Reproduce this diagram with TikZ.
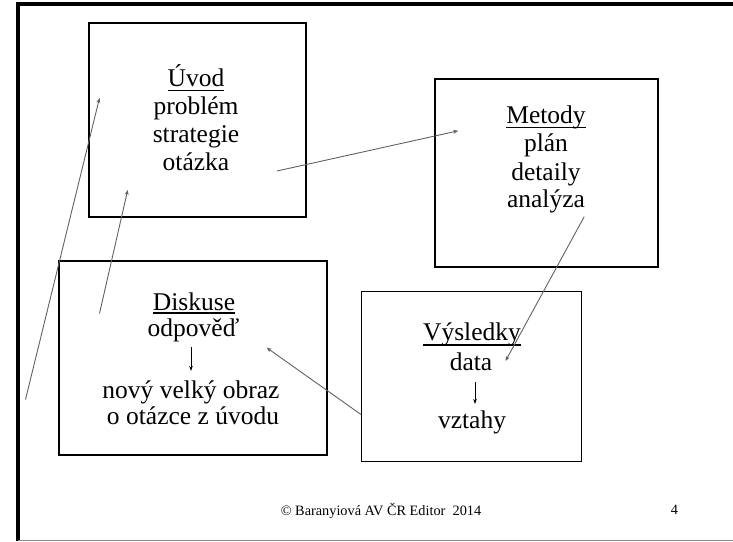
\documentclass[tikz,border=0pt]{standalone}
\usepackage{fontspec}
\setmainfont{Liberation Serif}
\usetikzlibrary{arrows.meta}
\begin{document}
\begin{tikzpicture}[x=1pt,y=-1pt,
  box/.style={draw=black, line width=1.8pt, inner sep=0pt, outer sep=0pt, anchor=north west},
  txt/.style={anchor=base, inner sep=0pt, outer sep=0pt, font=\fontsize{25.5}{28}\selectfont},
  foottxt/.style={anchor=base, inner sep=0pt, font=\fontsize{14.3}{16}\selectfont},
  ul/.style={line width=1.3pt},
  conn/.style={draw=black!62, line width=0.9pt, -{Stealth[length=5pt,width=4pt]}},
  small/.style={draw=black, line width=0.8pt, -{Stealth[length=5pt,width=3.5pt]}}]
\useasboundingbox (0,0) rectangle (733,541);
% frame
\draw[line width=3.5pt] (18,541) -- (18,4) -- (733,4);
\draw[black!45, line width=1pt] (18,540) -- (733,540);
% boxes
\node[box, minimum width=217pt, minimum height=194pt] (uvod) at (89,23) {};
\node[box, minimum width=223pt, minimum height=188pt] (metody) at (435,79) {};
\node[box, minimum width=268pt, minimum height=194pt] (diskuse) at (59,261) {};
\node[box, minimum width=220pt, minimum height=170pt] (vysl) at (361.5,291.5) {};
% Úvod
\node[txt] (t11) at (196,86.7) {Úvod};
\draw[ul] ([yshift=-3.5pt]t11.base west) -- ([yshift=-3.5pt]t11.base east);
\node[txt] (t12) at (196,114.5) {problém};
\node[txt] (t13) at (196,142) {strategie};
\node[txt] (t14) at (196,170) {otázka};
% Metody
\node[txt] (t21) at (546,123.3) {Metody};
\draw[ul] ([yshift=-4pt]t21.base west) -- ([yshift=-4pt]t21.base east);
\node[txt] (t22) at (546,151.7) {plán};
\node[txt] (t23) at (546,180) {detaily};
\node[txt] (t24) at (546,207.7) {analýza};
% Diskuse
\node[txt] (t31) at (194,310) {Diskuse};
\draw[ul] ([yshift=-3pt]t31.base west) -- ([yshift=-3pt]t31.base east);
\node[txt] (t32) at (193.5,336) {odpověď};
\node[txt] (t33) at (191,398) {nový velký obraz};
\node[txt] (t34) at (193,424) {o otázce z úvodu};
\coordinate (d1) at (191,347);
\coordinate (d2) at (191,371);
\draw[small] (d1) -- (d2);
% Výsledky
\node[txt] (t41) at (472,340) {Výsledky};
\draw[ul] ([yshift=-5pt]t41.base west) -- ([yshift=-5pt]t41.base east);
\node[txt] (t42) at (471,370) {data};
\node[txt] (t43) at (472,428.3) {vztahy};
\coordinate (v1) at (475,382);
\coordinate (v2) at (475,404);
\draw[small] (v1) -- (v2);
% connectors
\coordinate (c1s) at (25.5,399.5);
\coordinate (c1e) at (99.5,98);
\coordinate (c2s) at (99.5,313.5);
\coordinate (c2e) at (127.7,190);
\coordinate (c3s) at (277,171);
\coordinate (c3e) at (458.3,130.8);
\coordinate (c4s) at (584.2,216.7);
\coordinate (c4e) at (505.5,361);
\coordinate (c5s) at (361,414.5);
\coordinate (c5e) at (266.7,347.7);
\draw[conn] (c1s) -- (c1e);
\draw[conn] (c2s) -- (c2e);
\draw[conn] (c3s) -- (c3e);
\draw[conn] (c4s) -- (c4e);
\draw[conn] (c5s) -- (c5e);
% footer
\node[foottxt] (foot) at (381,515) {© Baranyiová AV ČR Editor\ \ 2014};
\node[foottxt] (pg) at (674.5,514) {4};
\end{tikzpicture}
\end{document}
